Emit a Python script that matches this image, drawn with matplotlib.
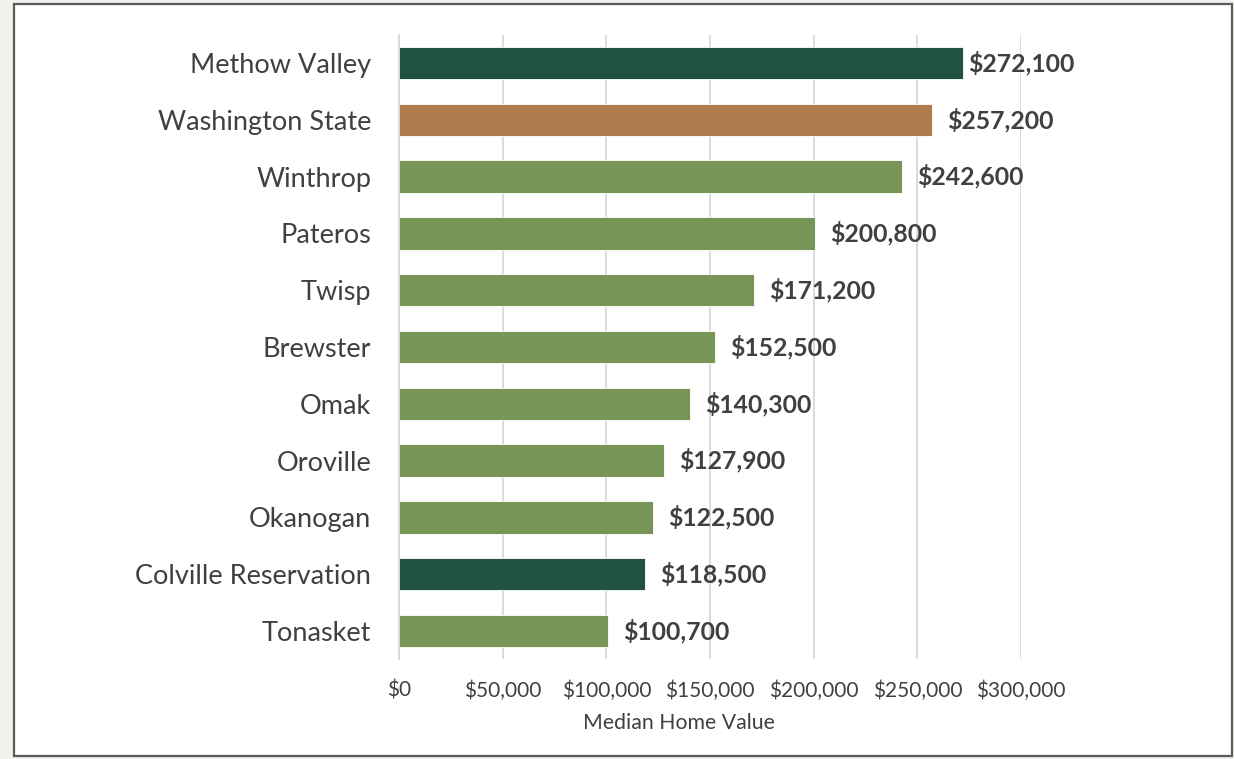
import matplotlib
matplotlib.use("Agg")
import matplotlib.pyplot as plt
from matplotlib.patches import Rectangle
from matplotlib.ticker import FuncFormatter
from matplotlib.transforms import offset_copy

# Median home values by place
places = ["Methow Valley", "Washington State", "Winthrop", "Pateros", "Twisp",
          "Brewster", "Omak", "Oroville", "Okanogan", "Colville Reservation",
          "Tonasket"]
values = [272100, 257200, 242600, 200800, 171200, 152500, 140300, 127900,
          122500, 118500, 100700]
groups = ["region", "state", "town", "town", "town", "town", "town", "town",
          "town", "region", "town"]
x_ticks = [0, 50000, 100000, 150000, 200000, 250000, 300000]

palette = {"region": "#215240", "state": "#b07c4d", "town": "#779557"}
text_color = "#404040"
FONT = "Lato"

W, H = 1234, 759
fig = plt.figure(figsize=(W / 100, H / 100), dpi=100)
fig.patch.set_facecolor("#f3f1eb")

# white panel with dark frame
fig.patches.append(Rectangle((14 / W, 3 / H), (1232 - 14) / W, (755 - 3) / H,
                             transform=fig.transFigure, facecolor="white",
                             edgecolor="#5a5a5a", linewidth=1.6, zorder=0))

left, right = 399 / W, 1021 / W
top, bottom = 1 - 34.6 / H, 1 - 659.4 / H
ax = fig.add_axes([left, bottom, right - left, top - bottom])
ax.set_zorder(2)
ax.set_facecolor("none")

ypos = list(range(len(places)))
colors = [palette[g] for g in groups]
ax.barh(ypos, values, height=0.57, color=colors, edgecolor="white",
        linewidth=0.6, zorder=2)

ax.set_xlim(0, 300000)
ax.set_ylim(len(places) - 0.5, -0.5)
ax.set_xticks(x_ticks)
ax.xaxis.set_major_formatter(FuncFormatter(lambda v, p: f"${v:,.0f}"))
ax.set_yticks(ypos)
ax.set_yticklabels(places)

ax.grid(axis="x", color="#d9d9d9", linewidth=1.3, zorder=1)
ax.set_axisbelow(True)
for s in ["top", "right", "bottom"]:
    ax.spines[s].set_visible(False)
ax.spines["left"].set_color("#d9d9d9")
ax.spines["left"].set_linewidth(1.3)
ax.spines["left"].set_zorder(3)

ax.tick_params(axis="x", length=0, pad=15, labelsize=15, labelcolor=text_color)
ax.tick_params(axis="y", length=0, pad=20, labelsize=19.5, labelcolor=text_color)
for lab in ax.get_xticklabels() + ax.get_yticklabels():
    lab.set_fontfamily(FONT)

ax.set_xlabel("Median Home Value", fontsize=15.3, color=text_color,
              fontfamily=FONT)
ax.xaxis.set_label_coords(0.45, -0.085)

# value labels just past the bar ends
label_gap = [5] + [15] * (len(places) - 1)
for y, v, g in zip(ypos, values, label_gap):
    tr = offset_copy(ax.transData, fig=fig, x=g, y=0, units="dots")
    ax.text(v, y, f"${v:,.0f}", transform=tr, ha="left", va="center",
            fontsize=17.8, fontweight="bold", color=text_color,
            fontfamily=FONT, clip_on=False)

fig.savefig("out.png", dpi=100, facecolor=fig.get_facecolor())
